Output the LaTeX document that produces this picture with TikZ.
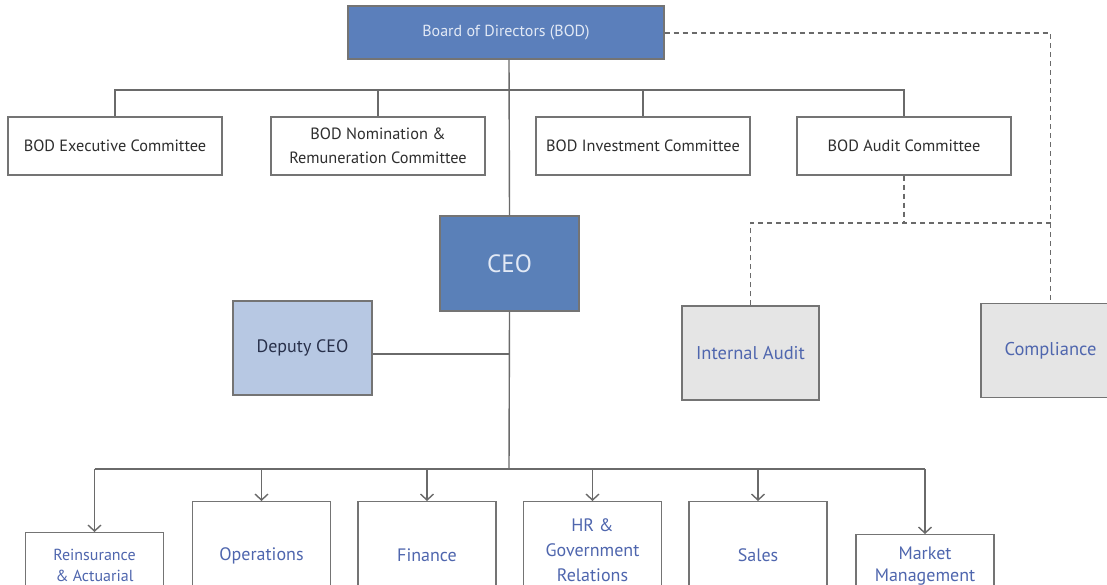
\documentclass[tikz,border=0pt]{standalone}
\usepackage{fontspec}
\setmainfont{PT Sans}
\usetikzlibrary{arrows.meta}
\definecolor{bodfill}{HTML}{5B7FBB}
\definecolor{ceofill}{HTML}{5A80B8}
\definecolor{depfill}{HTML}{B7C8E3}
\definecolor{greyfill}{HTML}{E5E5E5}
\definecolor{boxline}{HTML}{747474}
\definecolor{conn}{HTML}{6A6A6A}
\definecolor{lighttext}{HTML}{E2E9F5}
\definecolor{darktext}{HTML}{2E2E2E}
\definecolor{bluetext}{HTML}{4F66AE}
\definecolor{deptext}{HTML}{28304A}
\tikzset{
  base/.style={draw=boxline, line width=1.3pt, inner sep=0pt, align=center},
  bodbox/.style={base, fill=bodfill, text=lighttext, minimum width=316pt, minimum height=53pt, font=\fontsize{16}{19}\selectfont},
  commbox/.style={base, fill=white, text=darktext, minimum width=214pt, minimum height=58pt, font=\fontsize{16.3}{24}\selectfont},
  ceobox/.style={base, fill=ceofill, text=lighttext, minimum width=139pt, minimum height=95pt, font=\fontsize{25}{30}\selectfont},
  deputybox/.style={base, fill=depfill, text=deptext, minimum width=139pt, minimum height=94pt, font=\fontsize{18}{21}\selectfont},
  controlbox/.style={base, fill=greyfill, text=bluetext, minimum width=137pt, minimum height=94pt, font=\fontsize{18.5}{21}\selectfont},
  deptbox/.style={base, fill=white, text=bluetext, minimum width=138pt, anchor=north, font=\fontsize{18}{25}\selectfont},
  tallbox/.style={deptbox, minimum height=108pt},
  solidline/.style={draw=conn, line width=1.4pt},
  dashline/.style={draw=conn, line width=1.4pt, dash pattern=on 5pt off 4pt},
  arrowline/.style={solidline, -{Straight Barb[length=6pt,width=13pt,line width=1.4pt]}},
}
\begin{document}
\begin{tikzpicture}[x=1pt, y=-1pt]
\useasboundingbox (0,0) rectangle (1107,585);
\clip (0,0) rectangle (1107,585);
\fill[white] (0,0) rectangle (1107,585);

% coordinates of the connector grid
\coordinate (topbar) at (509,90);
\coordinate (auditbar) at (903,223);
\coordinate (deptbar) at (509,469);
\coordinate (trunk) at (509,354);

% nodes
\node[bodbox] (bod) at (506,32.5) {Board of Directors (BOD)};
\node[commbox] (c1) at (115,146) {BOD Executive Committee};
\node[commbox] (c2) at (378,146) {BOD Nomination \&\\Remuneration Committee};
\node[commbox] (c3) at (643,146) {BOD Investment Committee};
\node[commbox] (c4) at (904,146) {BOD Audit Committee};
\node[ceobox] (ceo) at (509.5,263.5) {CEO};
\node[deputybox] (dep) at (302.5,348) {Deputy CEO};
\node[controlbox] (ia) at (750.5,353) {Internal Audit};
\node[controlbox, minimum width=139pt] (comp) at (1050.5,350.5) {Compliance};

\node[deptbox, minimum height=66pt, font=\fontsize{16}{21}\selectfont] (d1) at (94.5,532) {Reinsurance\\\& Actuarial};
\node[tallbox] (d2) at (261.5,501) {Operations};
\node[tallbox] (d3) at (427,501) {Finance};
\node[deptbox, minimum height=98pt] (d4) at (592.5,501) {HR \&\\Government\\Relations};
\node[tallbox] (d5) at (758,501) {Sales};
\node[deptbox, minimum height=62pt, font=\fontsize{18}{22}\selectfont] (d6) at (925,534) {Market\\Management};

% board to committees
\draw[solidline] (bod.south -| topbar) -- (ceo.north);
\draw[solidline] (c1.north) |- (topbar) -| (c4.north);
\draw[solidline] (c2.north) -- (c2.north |- topbar);
\draw[solidline] (c3.north) -- (c3.north |- topbar);

% dashed reporting lines
\draw[dashline] (bod.east |- 0,33) -| (comp.north);
\draw[dashline] (c4.south) -- (c4.south |- auditbar);
\draw[dashline] (ia.north) |- (auditbar) -- (auditbar -| comp.north);

% CEO to deputy and departments
\draw[solidline] (ceo.south) -- (deptbar);
\draw[solidline] ([yshift=-6pt]dep.east) -- ([yshift=-6pt]dep.east -| trunk);
\draw[solidline] (d1.north |- deptbar) -- (d6.north |- deptbar);
\draw[arrowline] (d1.north |- deptbar) -- (d1.north);
\draw[arrowline] (d2.north |- deptbar) -- (d2.north);
\draw[arrowline] (d3.north |- deptbar) -- (d3.north);
\draw[arrowline] (d4.north |- deptbar) -- (d4.north);
\draw[arrowline] (d5.north |- deptbar) -- (d5.north);
\draw[arrowline] (d6.north |- deptbar) -- (d6.north);
\end{tikzpicture}
\end{document}
